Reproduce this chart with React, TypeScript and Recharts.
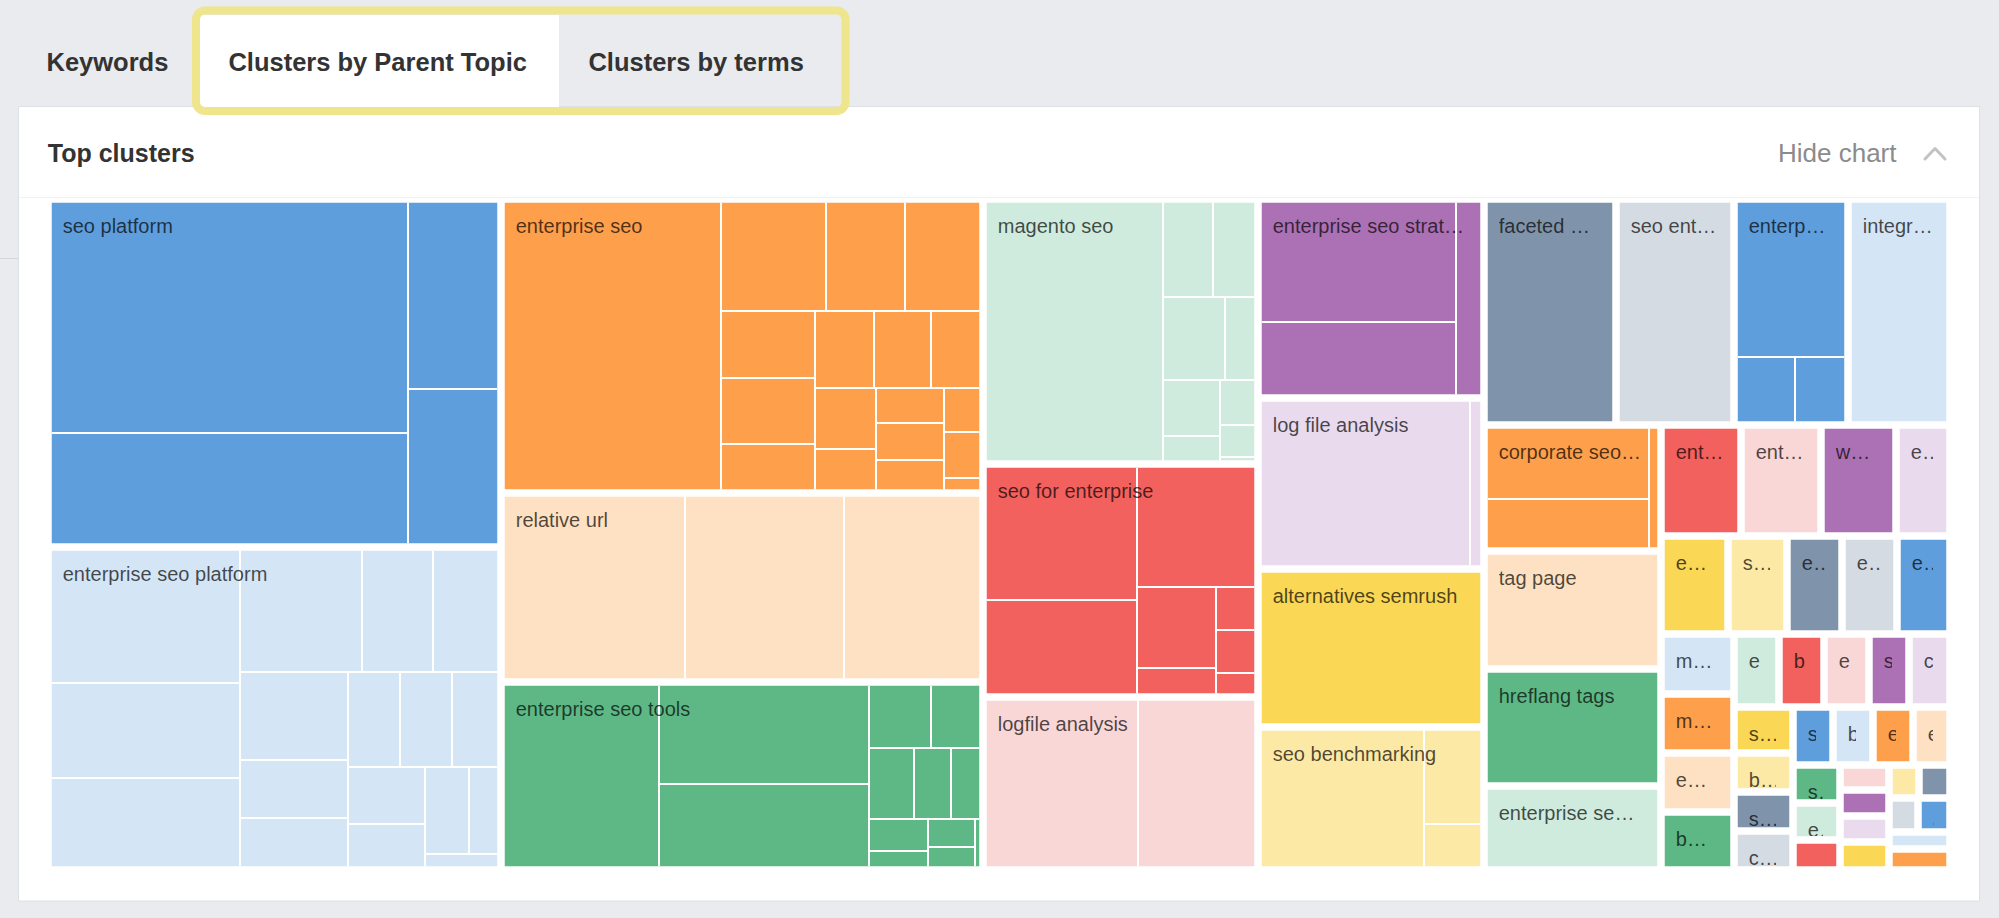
import React from "react"
import { Treemap } from "recharts"

const FONT = '"Helvetica Neue", Helvetica, Arial, "Liberation Sans", sans-serif'

const tabLabels = ["Keywords", "Clusters by Parent Topic", "Clusters by terms"]

// parent topics, in the order the treemap lays them out
const clusterNames = [
  "seo platform",
  "enterprise seo platform",
  "enterprise seo",
  "relative url",
  "enterprise seo tools",
  "magento seo",
  "seo for enterprise",
  "logfile analysis",
  "enterprise seo strategy",
  "log file analysis",
  "alternatives semrush",
  "seo benchmarking",
  "faceted navigation",
  "seo enterprise",
  "enterprise seo services",
  "integrated seo",
  "corporate seo strategy",
  "tag page",
  "hreflang tags",
  "enterprise search engine optimization",
  "enterprise seo audit",
  "enterprise seo company",
  "website seo",
  "enterprise technical seo",
  "enterprise seo agency",
  "seo at scale",
  "ecommerce seo",
  "enterprise seo consulting",
  "enterprise seo reporting",
  "multi site seo",
  "multilingual seo",
  "enterprise link building",
  "botify alternatives",
  "enterprise keyword research",
  "brightedge",
  "enterprise content strategy",
  "site audit",
  "conductor seo",
  "seo automation",
  "best enterprise seo tools",
  "seo governance",
  "content optimization",
  "seo roi",
  "brand seo",
  "enterprise seo pricing",
  "enterprise seo checklist",
  "seo audit tool",
  "enterprise rank tracking",
  "javascript seo",
  "seo for large sites",
  "international seo",
  "crawl budget",
  "seo workflow",
  "site migration",
  "page speed",
  "schema markup",
  "seo dashboard",
  "log analyzer",
  "seo forecasting",
]

// search volume of the keywords inside each cluster (one list per cluster)
const keywordVolumes: number[][] = [
  [839, 410, 176, 145],
  [262, 182, 177, 152, 89, 85, 95, 63, 56, 49, 49, 48, 44, 35, 38, 28, 12],
  [643, 117, 88, 87, 63, 62, 45, 45, 44, 40, 37, 27, 24, 25, 22, 17, 18, 7],
  [347, 301, 262],
  [296, 213, 180, 41, 34, 32, 26, 23, 19, 11, 13, 11, 3],
  [474, 49, 44, 51, 28, 32, 16, 17, 12, 3],
  [209, 149, 148, 64, 23, 18, 18, 9],
  [269, 209],
  [242, 151, 55],
  [361, 24],
  [355],
  [236, 58, 28],
  [297],
  [267],
  [179, 41, 36],
  [231],
  [122, 86, 15],
  [208],
  [207],
  [147],
  [89], [88], [83], [60],
  [65], [58], [54], [53.5], [53],
  [44], [43], [43], [42],
  [33], [33], [33], [29], [28.5],
  [27], [23], [23], [23],
  [23.3], [23.1], [23], [22],
  [17.7], [17.5], [14], [12.2], [12.6], [12.7], [13.3], [10], [10.2], [10], [10.4], [10.6], [10.4],
]

const palette = [
  "#5f9edc", "#d4e5f6", "#fe9f4c", "#fee0c2", "#5eb886", "#cfebdd", "#f3615e",
  "#f9d7d7", "#ac70b4", "#e9daed", "#fad755", "#fde9a6", "#7f94aa", "#d5dbe3",
]

const treeData = clusterNames.map((name, i) => ({
  name,
  children: keywordVolumes[i].map((value, j) => ({ name: `${name} ${j + 1}`, value })),
}))

const HALF_GAP = 3.75
const LINE = 2

function renderCell(props: any) {
  const { depth, x, y, width, height, index, name, children } = props
  if (depth !== 1) return <g />
  const vx = x + HALF_GAP
  const vy = y + HALF_GAP
  const vw = width - HALF_GAP * 2
  const vh = height - HALF_GAP * 2
  if (vw <= 0 || vh <= 0) return <g />
  const kids = (children || []) as any[]

  return (
    <g>
      <rect x={vx} y={vy} width={vw} height={vh} fill={palette[index % palette.length]} />
      {kids.map((k, i) => {
        const top = Math.max(k.y, vy)
        const bottom = Math.min(k.y + k.height, vy + vh)
        const left = Math.max(k.x, vx)
        const right = Math.min(k.x + k.width, vx + vw)
        return (
          <g key={i}>
            {k.x > x + 0.5 && bottom > top && (
              <rect x={k.x - LINE / 2} y={top} width={LINE} height={bottom - top} fill="#fff" />
            )}
            {k.y > y + 0.5 && right > left && (
              <rect x={left} y={k.y - LINE / 2} width={right - left} height={LINE} fill="#fff" />
            )}
          </g>
        )
      })}
      {vh >= 24 && vw > 24 && (
        <foreignObject x={vx + 11} y={vy} width={vw - 24} height={vh}>
          <div
            style={{
              paddingTop: 11,
              fontFamily: FONT,
              fontSize: 20,
              lineHeight: "24px",
              color: "rgba(0,0,0,0.7)",
              whiteSpace: "nowrap",
              overflow: "hidden",
              textOverflow: "ellipsis",
            }}
          >
            {name}
          </div>
        </foreignObject>
      )}
    </g>
  )
}

export default function App() {
  return (
    <div
      style={{
        position: "absolute",
        left: 0,
        top: 0,
        width: 1999,
        height: 918,
        overflow: "hidden",
        fontFamily: FONT,
      }}
    >
      <svg width={1999} height={918} style={{ position: "absolute", left: 0, top: 0 }}>
        <rect width={1999} height={918} fill="#e9ebee" />
        <line x1={0} x2={18} y1={258.5} y2={258.5} stroke="#d3d6db" />
        <rect x={18.5} y={106.5} width={1961} height={794.5} fill="#fff" stroke="#dde0e4" />
        <line x1={19} x2={1979} y1={197.5} y2={197.5} stroke="#f0f1f3" />
        <rect x={200} y={15} width={359} height={93} fill="#fff" />
        <g fontFamily={FONT} fontWeight="bold" fontSize={25.5} fill="#333">
          <text x={46.5} y={70.7}>{tabLabels[0]}</text>
          <text x={228.4} y={70.7}>{tabLabels[1]}</text>
          <text x={588.4} y={70.7}>{tabLabels[2]}</text>
        </g>
        <rect
          x={196}
          y={10.5}
          width={649.5}
          height={100.5}
          rx={9}
          fill="none"
          stroke="#eee58d"
          strokeWidth={8}
        />
        <text x={47.8} y={162.3} fontFamily={FONT} fontWeight="bold" fontSize={25} fill="#333">
          Top clusters
        </text>
        <text x={1778} y={162.3} fontFamily={FONT} fontSize={26} fill="#8b8b8b">
          Hide chart
        </text>
        <polyline
          points="1925,159 1935,148.5 1945,159"
          fill="none"
          stroke="#c3c3c3"
          strokeWidth={3}
          strokeLinecap="round"
          strokeLinejoin="round"
        />
      </svg>
      <div style={{ position: "absolute", left: 48, top: 199 }}>
        <Treemap
          width={1902}
          height={671}
          data={treeData}
          dataKey="value"
          nameKey="name"
          isAnimationActive={false}
          content={renderCell as any}
        />
      </div>
    </div>
  )
}
